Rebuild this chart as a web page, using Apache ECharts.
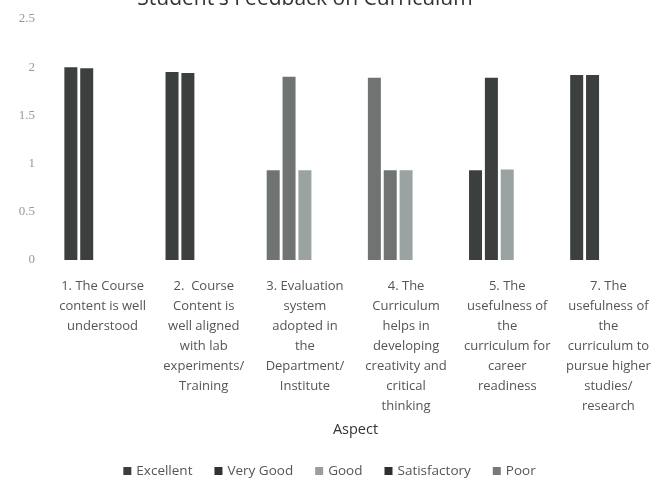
<!DOCTYPE html>
<html><head><meta charset="utf-8">
<script src="https://cdn.jsdelivr.net/npm/echarts@6/dist/echarts.min.js"></script>
<style>html,body{margin:0;padding:0;background:#fff}#c{width:659px;height:487px}</style>
</head><body><div id="c"></div>
<script>
const categories = [
  "1. The Course\ncontent is well\nunderstood",
  "2.  Course\nContent is\nwell aligned\nwith lab\nexperiments/\nTraining",
  "3. Evaluation\nsystem\nadopted in\nthe\nDepartment/\nInstitute",
  "4. The\nCurriculum\nhelps in\ndeveloping\ncreativity and\ncritical\nthinking",
  "5. The\nusefulness of\nthe\ncurriculum for\ncareer\nreadiness",
  "7. The\nusefulness of\nthe\ncurriculum to\npursue higher\nstudies/\nresearch"
];
const seriesNames = ["Excellent", "Very Good", "Good", "Satisfactory", "Poor"];
const excellent    = [2, 1.95, 0.93, 1.89, 0.93, 1.92];
const veryGood     = [1.99, 1.94, 1.9, 0.93, 1.89, 1.92];
const good         = [0, 0, 0.93, 0.93, 0.94, 0];
const satisfactory = [0, 0, 0, 0, 0, 0];
const poor         = [0, 0, 0, 0, 0, 0];
const yTicks = [0, 0.5, 1, 1.5, 2, 2.5];

const values = [excellent, veryGood, good, satisfactory, poor];
const legendColors = ["#3a3e3d", "#2f3332", "#9a9e9d", "#2c302f", "#757b7a"];
const fadedCats = [2, 3];
const barColor = (si) => (p) => {
  if (si === 2) return "#9aa3a2";
  return fadedCats.includes(p.dataIndex) ? "#6f7473" : "#3b3f3e";
};
const font = "'Open Sans', sans-serif";
const chart = echarts.init(document.getElementById('c'));
chart.setOption({
  animation: false,
  backgroundColor: '#fff',
  title: { text: "Student's Feedback on Curriculum", left: 300, textAlign: 'center', top: -16,
    textStyle: { fontSize: 21, fontWeight: 'normal', color: '#333', fontFamily: font } },
  grid: { left: 52, right: 0, top: 19, bottom: 227 },
  legend: { bottom: 4, left: 'center', itemWidth: 8, itemHeight: 8, itemGap: 22,
    icon: 'rect', textStyle: { fontSize: 13.5, color: '#555', fontFamily: font },
    data: seriesNames.map((n, i) => ({ name: n, itemStyle: { color: legendColors[i] } })) },
  xAxis: { type: 'category', data: categories, name: 'Aspect', nameLocation: 'middle', nameGap: 162,
    nameTextStyle: { fontSize: 14.5, color: '#333', fontFamily: font },
    axisLine: { show: false }, axisTick: { show: false },
    axisLabel: { interval: 0, margin: 16, fontSize: 13, lineHeight: 20, color: '#555', fontFamily: font } },
  yAxis: { type: 'value', min: yTicks[0], max: yTicks[yTicks.length - 1], interval: 0.5,
    splitLine: { show: false }, axisLine: { show: false }, axisTick: { show: false },
    axisLabel: { margin: 17, fontSize: 13, color: '#999', fontFamily: "'Liberation Serif', serif" } },
  series: seriesNames.map((n, i) => ({
    name: n, type: 'bar', data: values[i], barWidth: 13, barGap: '22%',
    itemStyle: { color: barColor(i) }
  }))
});
</script></body></html>
